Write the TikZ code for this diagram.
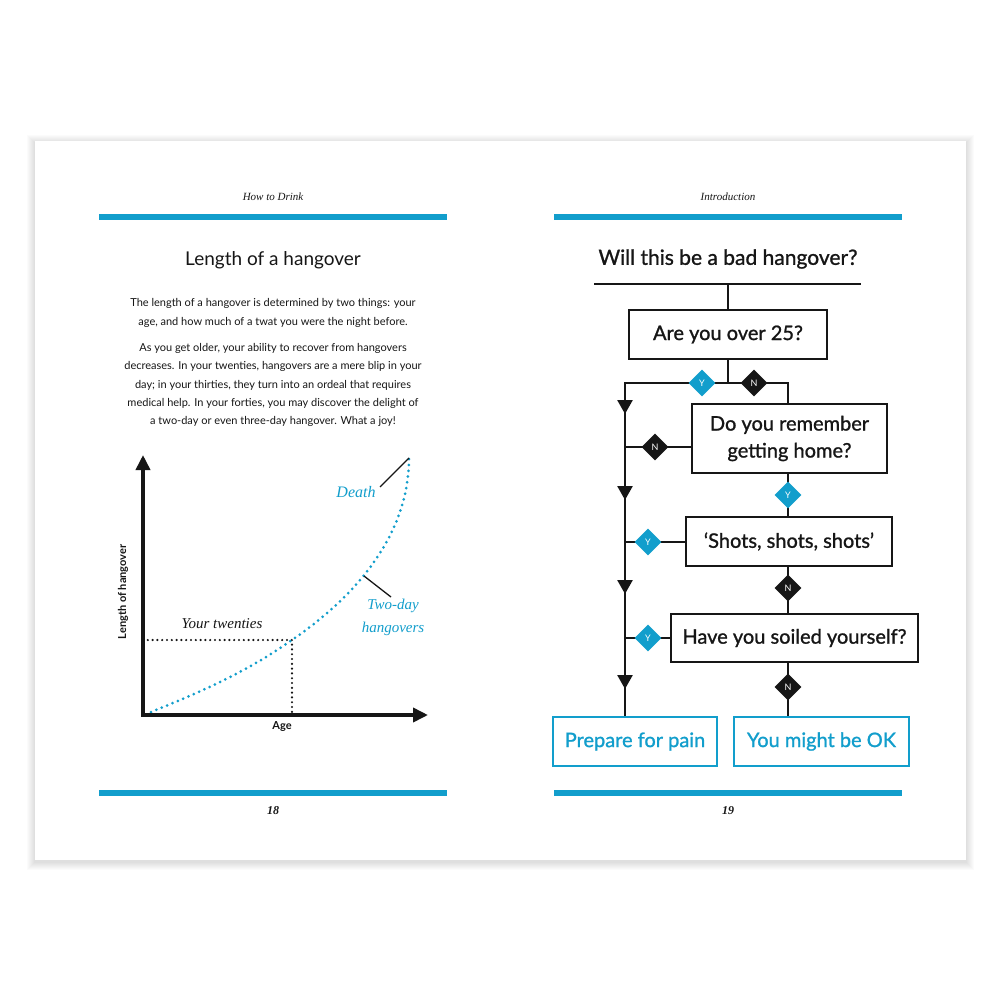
\documentclass[tikz,border=0pt]{standalone}
\usepackage{fontspec}
\setmainfont{Lato}
\newfontfamily\serif{Liberation Serif}
\newfontfamily\fcfont[FakeBold=1.1]{Lato}
\usetikzlibrary{shapes.geometric,arrows.meta,decorations.markings}
\definecolor{hblue}{RGB}{18,158,204}
\definecolor{ink}{RGB}{22,22,22}
\pgfdeclarelayer{bga}
\pgfdeclarelayer{bgb}
\pgfsetlayers{bga,bgb,main}
\begin{document}
\begin{tikzpicture}[x=1pt,y=-1pt,
  qbox/.style={draw=ink, line width=2.6pt, minimum height=49pt, inner sep=0pt, text=ink, font=\fcfont\fontsize{20}{24}\selectfont},
  endbox/.style={draw=hblue, line width=2.8pt, minimum height=49pt, inner sep=0pt, text=hblue, font=\fcfont\fontsize{20}{24}\selectfont},
  ydia/.style={diamond, fill=hblue, minimum width=27pt, minimum height=27pt, inner sep=0pt, text=white, font=\fontsize{9}{9}\selectfont},
  ndia/.style={ydia, fill=ink},
  conn/.style={draw=ink, line width=2.6pt, line cap=rect},
  trunkarrows/.style={postaction={decorate}, decoration={markings,
     mark=at position 31pt with {\arrow{Triangle[length=14pt,width=15pt]}},
     mark=at position 117pt with {\arrow{Triangle[length=14pt,width=15pt]}},
     mark=at position 211pt with {\arrow{Triangle[length=14pt,width=15pt]}},
     mark=at position 306pt with {\arrow{Triangle[length=14pt,width=15pt]}}}},
  bluedots/.style={draw=hblue, line width=3pt, line cap=round, dash pattern=on 0pt off 5.8pt},
  blackdots/.style={draw=ink, line width=2.4pt, line cap=round, dash pattern=on 0pt off 4.8pt},
  hdr/.style={font=\serif\itshape\fontsize{11}{13}\selectfont, text=ink},
  pnum/.style={font=\serif\bfseries\itshape\fontsize{12}{14}\selectfont, text=ink},
  body/.style={align=center, text=ink, font=\fontsize{11}{18.3}\selectfont},
  axlab/.style={text=ink, font=\bfseries\fontsize{11}{13}\selectfont},
  gser/.style={font=\serif\itshape\fontsize{15}{23}\selectfont}
]
\useasboundingbox (0,0) rectangle (1000,1000);
\begin{pgfonlayer}{bga}
  \fill[white] (0,0) rectangle (1000,1000);
  \foreach \i in {1,...,8} {
    \fill[black, opacity=0.014] (35-\i,141-\i+2) rectangle (966+\i,860+\i+2);
  }
  \fill[white] (35,141) rectangle (966,860);
  % bars
  \fill[hblue] (99,214) rectangle (447,220);
  \fill[hblue] (554,214) rectangle (902,220);
  \fill[hblue] (99,790) rectangle (447,796);
  \fill[hblue] (554,790) rectangle (902,796);
\end{pgfonlayer}

% headers and page numbers
\node[hdr] (hleft) at (273,197) {How to Drink};
\node[hdr] (hright) at (728,197) {Introduction};
\node[pnum] (p18) at (273,811) {18};
\node[pnum] (p19) at (728,811) {19};

% ---------------- left page ----------------
\node[text=ink, font=\fontsize{19}{22}\selectfont] (ltitle) at (273,260) {Length of a hangover};
\node[body] (para1) at (273,313) {The length of a hangover is determined by two things: your\\age, and how much of a twat you were the night before.};
\node[body] (para2) at (273,385) {As you get older, your ability to recover from hangovers\\decreases. In your twenties, hangovers are a mere blip in your\\day; in your thirties, they turn into an ordeal that requires\\medical help. In your forties, you may discover the delight of\\a two-day or even three-day hangover. What a joy!};

\coordinate (o) at (143,715);
\coordinate (ya) at (143,455);
\coordinate (xa) at (428,715);
\coordinate (tw) at (292,640);
\coordinate (c0) at (151,712);
\coordinate (ctop) at (409,458);
\coordinate (cmid) at (364,576);

\draw[blackdots] (o |- tw) -- (tw) -- (tw |- o);
\draw[bluedots] (c0) .. controls (198,693) and (245,673) .. (tw) .. controls (362,592) and (409,530) .. (ctop);
\draw[draw=ink, line width=3.6pt, line join=miter, {Triangle[length=15pt,width=14pt]}-{Triangle[length=15pt,width=14pt]}] (ya) -- (o) -- (xa);

\node[gser, text=ink] (twenties) at (222,624) {Your twenties};
\node[gser, text=hblue, font=\serif\itshape\fontsize{16}{18}\selectfont] (death) at (356,492) {Death};
\node[gser, text=hblue, align=center] (twoday) at (393,617) {Two-day\\hangovers};
\coordinate (dl) at (380,487);
\coordinate (tdl) at (391,597);
\draw[ink, line width=1.3pt] (dl) -- (ctop);
\draw[ink, line width=1.3pt] (cmid) -- (tdl);

\node[axlab] (age) at (282,727) {Age};
\node[axlab, rotate=90] (lenlab) at (123,592) {Length of hangover};

% ---------------- right page ----------------
\node[text=ink, font=\fcfont\fontsize{21}{24}\selectfont] (rtitle) at (728,259) {Will this be a bad hangover?};
\coordinate (tl1) at (595,284);
\coordinate (tl2) at (860,284);
\coordinate (hc) at (728,284);

\node[qbox, minimum width=198pt] (q1) at (728,334.5) {Are you over 25?};
\node[qbox, minimum width=195pt, minimum height=69pt, align=center, font=\fcfont\fontsize{20}{27}\selectfont] (q2) at (789.5,438.5) {Do you remember\\getting home?};
\node[qbox, minimum width=206pt] (q3) at (789,541.5) {‘Shots, shots, shots’};
\node[qbox, minimum width=247pt, minimum height=48pt] (q4) at (794.5,638) {Have you soiled yourself?};
\node[endbox, minimum width=164pt] (pain) at (635,741.5) {Prepare for pain};
\node[endbox, minimum width=175pt] (ok) at (821.5,741.5) {You might be OK};

\coordinate (j1) at (728,383);
\coordinate (jl) at (625,383);
\coordinate (jr) at (788,383);

\node[ydia] (y1) at (702,383) {Y};
\node[ndia] (n1) at (754,383) {N};
\node[ndia] (n2) at (655,447) {N};
\node[ydia] (y2) at (788,495) {Y};
\node[ydia] (y3) at (648,542) {Y};
\node[ndia] (n3) at (788,588) {N};
\node[ydia] (y4) at (648,638) {Y};
\node[ndia] (n4) at (788,687) {N};

\begin{pgfonlayer}{bgb}
  \draw[conn] (tl1) -- (tl2);
  \draw[conn] (hc) -- (q1.north);
  \draw[conn] (q1.south) -- (j1);
  \draw[conn] (jl) -- (jr) -- (jr |- q2.north);
  \draw[conn, trunkarrows] (jl) -- (jl |- pain.north);
  \draw[conn] (jl |- n2) -- (n2 -| q2.west);
  \draw[conn] (y2 |- q2.south) -- (y2 |- q3.north);
  \draw[conn] (jl |- y3) -- (y3 -| q3.west);
  \draw[conn] (n3 |- q3.south) -- (n3 |- q4.north);
  \draw[conn] (jl |- y4) -- (y4 -| q4.west);
  \draw[conn] (n4 |- q4.south) -- (n4 |- ok.north);
\end{pgfonlayer}
\end{tikzpicture}
\end{document}
